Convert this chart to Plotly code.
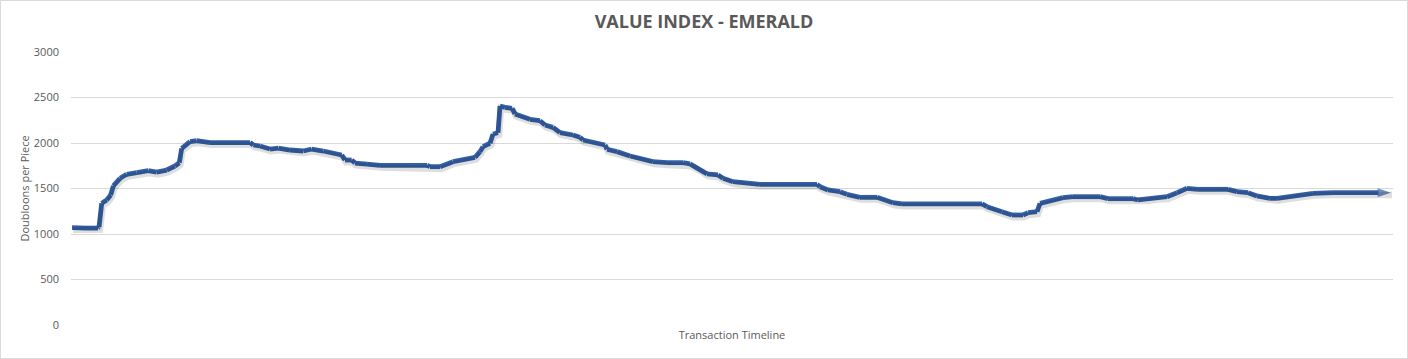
import plotly.graph_objects as go

# Transaction index (position along the timeline) and value (doubloons per piece)
transaction = [1, 12, 16, 27, 28, 30.7, 35.7, 39.7, 42.3, 49, 55.7, 65.7, 77.3, 85.7, 95.7, 104, 108.3,
               110.7, 115.7, 119, 125.7, 139, 179, 182.3, 189, 199, 207.3, 219, 232.3, 240.7, 252.3,
               265.7, 270.7, 274, 280.7, 284, 289, 296, 309, 356, 359, 369, 382, 396, 404, 409, 412,
               419, 422, 427, 429, 434, 441, 444, 451, 459, 469, 474, 482, 489, 502, 509, 512, 522,
               534, 536, 546, 559, 569, 582, 596, 612, 619, 629, 636, 647, 652, 662, 676, 689, 746,
               749, 757, 769, 776, 789, 806, 816, 822, 831, 911, 916, 926, 931, 941, 952, 957, 966,
               969, 976, 982, 992, 1002, 1029, 1037, 1062, 1067, 1076, 1086, 1096, 1106, 1116, 1127,
               1157, 1166, 1177, 1186, 1199, 1206, 1216, 1229, 1242, 1262, 1320]
value = [1070, 1075, 1065, 1065, 1075, 1337, 1374, 1429, 1528, 1612, 1656, 1674, 1696, 1680, 1703, 1747, 1783,
         1942, 1978, 2015, 2025, 2005, 2005, 1978, 1967, 1934, 1945, 1923, 1912, 1934, 1912,
         1879, 1868, 1813, 1813, 1780, 1780, 1769, 1755, 1755, 1740, 1740, 1795, 1821, 1843, 1905, 1960,
         1997, 2099, 2113, 2407, 2392, 2381, 2319, 2289, 2260, 2245, 2198, 2172, 2113, 2088, 2063, 2033, 2004,
         1978, 1931, 1905, 1857, 1832, 1795, 1784, 1784, 1770, 1711, 1660, 1649, 1612, 1575, 1557, 1546, 1546,
         1520, 1484, 1465, 1436, 1403, 1403, 1366, 1344, 1330, 1330, 1300, 1271, 1245, 1209, 1209, 1234, 1245,
         1337, 1355, 1381, 1399, 1410, 1410, 1388, 1388, 1374, 1388, 1403, 1410, 1454, 1502,
         1491, 1491, 1465, 1454, 1418, 1392, 1392, 1410, 1429, 1447, 1454, 1454]

y_ticks = [0, 500, 1000, 1500, 2000, 2500, 3000]

TITLE = "VALUE INDEX - EMERALD"
X_TITLE = "Transaction Timeline"
Y_TITLE = "Doubloons per Piece"

LINE_COLOR = "#3460A7"
TEXT_COLOR = "#595959"
GRID_COLOR = "#d9d9d9"
FONT = "Open Sans"

W, H = 1408, 359
ML, MR, MT, MB = 71, 15, 52, 34
PW, PH = W - ML - MR, H - MT - MB
XR = [0, 1322]
YR = [0, 3000]

fig = go.Figure()

# soft shadow (same data drawn on an offset overlay axis)
fig.add_trace(go.Scatter(
    x=transaction, y=value, mode="lines",
    line=dict(color="rgba(0,0,0,0.13)", width=6.5),
    xaxis="x2", yaxis="y2", hoverinfo="skip", showlegend=False,
))

sizes = [0] * (len(value) - 1) + [14]
fig.add_trace(go.Scatter(
    x=transaction, y=value, mode="lines+markers",
    line=dict(color=LINE_COLOR, width=4.8),
    marker=dict(symbol="arrow", angleref="previous", size=sizes, color=LINE_COLOR,
                line=dict(width=0)),
    showlegend=False,
))

fig.update_layout(
    width=W, height=H,
    margin=dict(l=ML, r=MR, t=MT, b=MB),
    paper_bgcolor="white", plot_bgcolor="white",
    font=dict(family=FONT, color=TEXT_COLOR, size=11),
    title=dict(text="<b>" + TITLE + "</b>", x=0.5, xanchor="center", y=1 - 22 / H, yanchor="middle",
               font=dict(size=18, color=TEXT_COLOR, family=FONT)),
    xaxis=dict(range=XR, showticklabels=False, showgrid=False, zeroline=False, showline=False,
               ticks="", title=dict(text=X_TITLE, font=dict(size=11, color=TEXT_COLOR), standoff=6)),
    yaxis=dict(range=YR, tickvals=y_ticks, showgrid=True, gridcolor=GRID_COLOR, gridwidth=1,
               zeroline=False, showline=False, ticks="", ticklabelstandoff=11,
               tickfont=dict(size=11, color=TEXT_COLOR)),
    xaxis2=dict(range=[XR[0] - 1, XR[1] - 1], overlaying="x", visible=False),
    yaxis2=dict(range=[YR[0] + 25, YR[1] + 25], overlaying="y", visible=False),
    annotations=[dict(text=Y_TITLE, textangle=-90, xref="paper", yref="paper",
                      x=(24 - ML) / PW, y=0.5, xanchor="center", yanchor="middle",
                      showarrow=False, font=dict(size=11, color=TEXT_COLOR, family=FONT))],
    shapes=[dict(type="rect", xref="paper", yref="paper",
                 x0=(0.5 - ML) / PW, x1=(W - 0.5 - ML) / PW,
                 y0=-(MB - 0.5) / PH, y1=(PH + MT - 0.5) / PH,
                 line=dict(color=GRID_COLOR, width=1), fillcolor="rgba(0,0,0,0)", layer="below")],
)

fig.write_html("out.html", config={"displayModeBar": False},
               post_script="document.body.style.margin='0';document.body.style.overflow='hidden';")
